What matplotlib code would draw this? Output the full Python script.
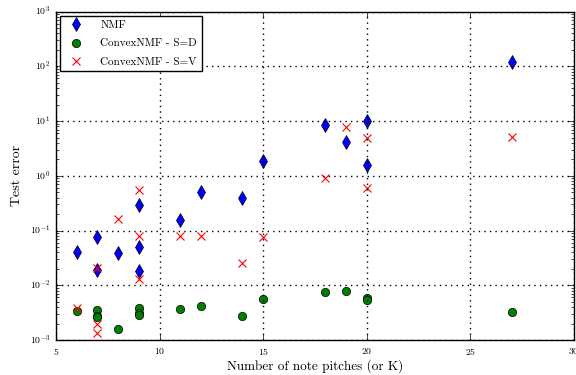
import matplotlib
matplotlib.use("Agg")
import matplotlib.pyplot as plt

plt.style.use("classic")
plt.rcParams["font.family"] = ["cmr10", "DejaVu Serif"]
plt.rcParams["mathtext.fontset"] = "cm"
plt.rcParams["axes.formatter.use_mathtext"] = True

nmf_k = [6, 7, 7, 8, 9, 9, 9, 11, 12, 14, 15, 18, 19, 20, 20, 27]
nmf_err = [0.041, 0.077, 0.019, 0.039, 0.29, 0.050, 0.018, 0.155, 0.50, 0.40,
           1.85, 8.5, 4.1, 9.9, 1.56, 120]

sd_k = [6, 7, 7, 7, 8, 9, 9, 9, 11, 12, 14, 15, 18, 19, 20, 20, 27]
sd_err = [0.0034, 0.0035, 0.0027, 0.0026, 0.0016, 0.0038, 0.0031, 0.0029, 0.0037,
          0.0041, 0.0027, 0.0057, 0.0074, 0.0079, 0.0058, 0.0054, 0.0032]

sv_k = [6, 7, 7, 7, 8, 9, 9, 9, 11, 12, 14, 15, 18, 19, 20, 20, 27]
sv_err = [0.0038, 0.0206, 0.0020, 0.00134, 0.166, 0.54, 0.081, 0.013, 0.081,
          0.081, 0.0254, 0.077, 0.93, 7.9, 5.0, 0.60, 5.1]

fig = plt.figure(figsize=(5.76, 3.75), dpi=100, facecolor="white")
ax = fig.add_axes([0.0972, 0.0933, 0.8993, 0.8757])

ax.plot(nmf_k, nmf_err, linestyle="none", marker="d", markersize=7.5,
        markerfacecolor="blue", markeredgecolor="black", label="NMF")
ax.plot(sd_k, sd_err, linestyle="none", marker="o", markersize=6,
        markerfacecolor="green", markeredgecolor="black", label="ConvexNMF - S=D")
ax.plot(sv_k, sv_err, linestyle="none", marker="x", markersize=5.5,
        markeredgecolor="red", markeredgewidth=0.8, label="ConvexNMF - S=V")

ax.set_yscale("log")
ax.set_xlim(5, 30)
ax.set_ylim(1e-3, 1e3)
ax.set_xticks([5, 10, 15, 20, 25, 30])
ax.grid(True, color="black", linestyle=":", linewidth=1)
ax.tick_params(labelsize=7)
ax.set_xlabel("Number of note pitches (or K)", fontsize=9.5, labelpad=2)
ax.set_ylabel("Test error", fontsize=10)

leg = ax.legend(loc="upper left", numpoints=1, fontsize=8, frameon=True,
                borderaxespad=0.4, labelspacing=0.75, handletextpad=1.2)

fig.savefig("out.png", dpi=100, facecolor="white")
